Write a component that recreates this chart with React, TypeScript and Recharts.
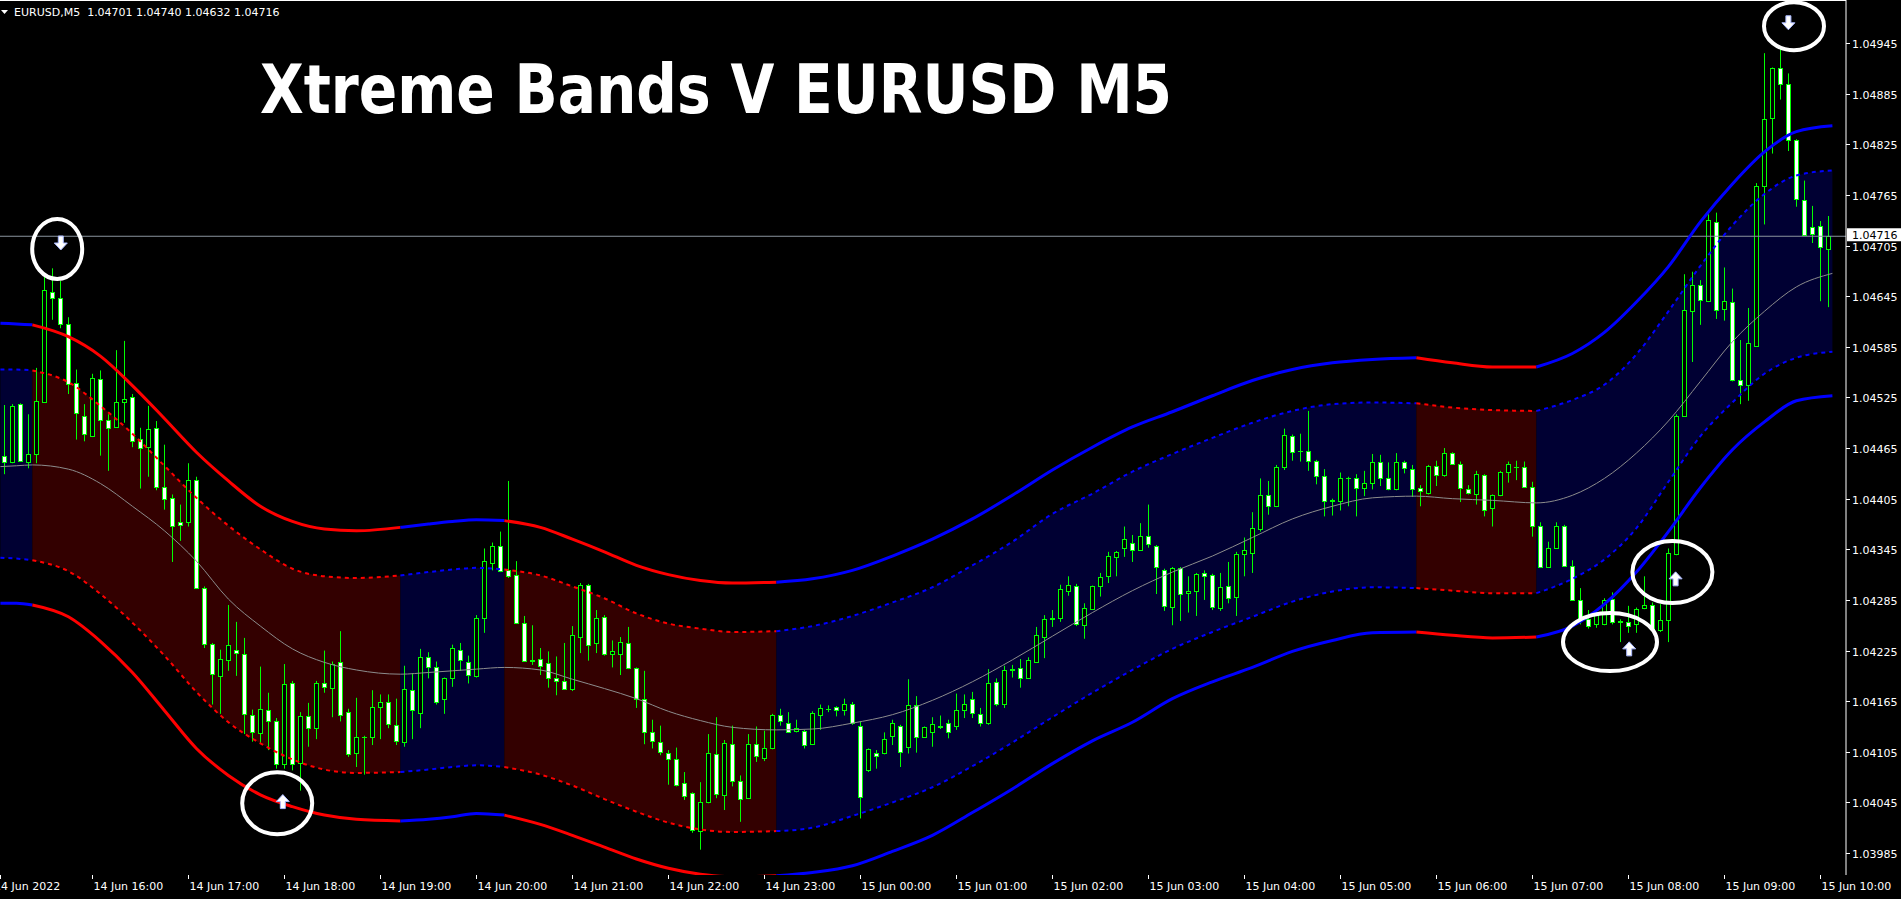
import React from 'react';
import {
  ComposedChart,
  XAxis,
  YAxis,
  Bar,
  Line,
  Area,
  ReferenceLine,
  ReferenceDot,
} from 'recharts';

// EURUSD M5, 14 Jun 15:05 .. 15 Jun 10:05 (one entry per bar)
const opens = [
  1.04455, 1.04449, 1.04517, 1.04449, 1.04458, 1.0452, 1.0465, 1.04643, 1.04612, 1.04542,
  1.04503, 1.04479, 1.04547, 1.04498, 1.0449, 1.04519, 1.04525, 1.04476, 1.04466, 1.04489,
  1.04419, 1.04406, 1.04377, 1.04377, 1.04427, 1.04299, 1.04233, 1.04195, 1.04214, 1.04226,
  1.04221, 1.04149, 1.04127, 1.04155, 1.04141, 1.04091, 1.04186, 1.04092, 1.04147, 1.04133,
  1.04186, 1.04181, 1.04211, 1.04152, 1.04104, 1.04123, 1.04122, 1.04158, 1.04164, 1.04137,
  1.04117, 1.04178, 1.04151, 1.04217, 1.04206, 1.04168, 1.04192, 1.04226, 1.04211, 1.04195,
  1.04264, 1.04329, 1.04349, 1.0432, 1.04315, 1.04258, 1.04214, 1.04215, 1.0421, 1.04193,
  1.04189, 1.04179, 1.04241, 1.04303, 1.04234, 1.04265, 1.04221, 1.04221, 1.04234, 1.04204,
  1.04168, 1.04129, 1.04117, 1.04103, 1.04097, 1.04068, 1.04056, 1.04011, 1.04045, 1.04102,
  1.04054, 1.04114, 1.0407, 1.0405, 1.04114, 1.04098, 1.04109, 1.04149, 1.04139, 1.0413,
  1.0413, 1.04114, 1.04149, 1.04156, 1.04158, 1.04154, 1.04162, 1.04135, 1.04084, 1.04104,
  1.04103, 1.04124, 1.04135, 1.04111, 1.04161, 1.04123, 1.04129, 1.04136, 1.04139, 1.04135,
  1.04155, 1.04168, 1.0415, 1.04139, 1.04188, 1.04162, 1.04203, 1.04204, 1.04193, 1.04212,
  1.04241, 1.04262, 1.04264, 1.04295, 1.04301, 1.04255, 1.04274, 1.04301, 1.04313, 1.04336,
  1.04347, 1.04353, 1.04344, 1.04361, 1.04349, 1.04321, 1.04277, 1.04323, 1.04293, 1.04295,
  1.04317, 1.04314, 1.04276, 1.04301, 1.04288, 1.04339, 1.04341, 1.04369, 1.04409, 1.04396,
  1.04443, 1.04479, 1.04462, 1.04461, 1.0445, 1.04432, 1.04402, 1.04402, 1.0443, 1.04429,
  1.04418, 1.04424, 1.04449, 1.0443, 1.04416, 1.04449, 1.0444, 1.04418, 1.04412, 1.04444,
  1.04433, 1.04459, 1.04446, 1.04417, 1.04411, 1.04433, 1.04394, 1.04409, 1.04437, 1.04443,
  1.04443, 1.04419, 1.04373, 1.04324, 1.04347, 1.04373, 1.04325, 1.04285, 1.04262, 1.04256,
  1.04256, 1.04286, 1.0426, 1.04259, 1.04256, 1.04275, 1.04279, 1.04249, 1.04261, 1.0434,
  1.04503, 1.04627, 1.04658, 1.04639, 1.04733, 1.0463, 1.04638, 1.04546, 1.0454, 1.04586,
  1.04775, 1.04856, 1.04915, 1.04897, 1.0483, 1.04759, 1.04727, 1.04728, 1.04701,
];
const highs = [
  1.04516, 1.04517, 1.04518, 1.04505, 1.0456, 1.04671, 1.04678, 1.04663, 1.0462, 1.04558,
  1.04517, 1.04553, 1.04557, 1.04505, 1.04581, 1.04592, 1.04529, 1.04489, 1.04515, 1.04497,
  1.04469, 1.0441, 1.04398, 1.04447, 1.04431, 1.04301, 1.04234, 1.04226, 1.04279, 1.04259,
  1.0424, 1.04155, 1.04206, 1.04175, 1.04145, 1.04209, 1.04189, 1.04152, 1.04163, 1.04189,
  1.04225, 1.04212, 1.04248, 1.04156, 1.04169, 1.04124, 1.04178, 1.04173, 1.04173, 1.04168,
  1.04207, 1.04198, 1.04227, 1.04223, 1.04212, 1.04193, 1.04232, 1.04234, 1.04219, 1.04267,
  1.04346, 1.04353, 1.04366, 1.04426, 1.04331, 1.04266, 1.04255, 1.04228, 1.04224, 1.04218,
  1.04234, 1.04254, 1.04305, 1.04304, 1.04273, 1.04267, 1.04237, 1.04241, 1.04253, 1.04205,
  1.04201, 1.04143, 1.04136, 1.04107, 1.0411, 1.04081, 1.04057, 1.04069, 1.04126, 1.04146,
  1.04119, 1.04136, 1.04077, 1.04126, 1.04135, 1.0413, 1.0415, 1.04156, 1.04152, 1.04143,
  1.04131, 1.04153, 1.04161, 1.0416, 1.04159, 1.04168, 1.04164, 1.04141, 1.04109, 1.04107,
  1.04128, 1.04143, 1.04137, 1.04191, 1.04171, 1.04135, 1.04146, 1.04148, 1.04143, 1.04174,
  1.04173, 1.04176, 1.04157, 1.04203, 1.04192, 1.04207, 1.04208, 1.04215, 1.04217, 1.04253,
  1.04267, 1.04273, 1.04303, 1.04313, 1.04304, 1.04281, 1.04302, 1.04317, 1.04342, 1.04343,
  1.04372, 1.04362, 1.04376, 1.04398, 1.0435, 1.04322, 1.04324, 1.04324, 1.04313, 1.04317,
  1.0432, 1.04316, 1.04317, 1.0433, 1.04342, 1.04359, 1.04389, 1.04429, 1.04426, 1.04445,
  1.04488, 1.04481, 1.04482, 1.04509, 1.04451, 1.0444, 1.04405, 1.04436, 1.04431, 1.04434,
  1.04438, 1.04458, 1.04457, 1.04448, 1.04459, 1.0445, 1.04445, 1.04421, 1.04445, 1.0445,
  1.04465, 1.0446, 1.04449, 1.04421, 1.04438, 1.04434, 1.0441, 1.04438, 1.04449, 1.0445,
  1.04449, 1.04425, 1.04377, 1.04354, 1.04377, 1.04374, 1.04332, 1.04299, 1.04273, 1.04271,
  1.04287, 1.04294, 1.04262, 1.04278, 1.04276, 1.04313, 1.04282, 1.0428, 1.04346, 1.04505,
  1.04671, 1.04674, 1.04664, 1.04742, 1.04744, 1.04679, 1.04654, 1.04593, 1.04631, 1.04779,
  1.04933, 1.04916, 1.04938, 1.04909, 1.04831, 1.04782, 1.04752, 1.04734, 1.0474,
];
const lows = [
  1.04434, 1.04447, 1.04449, 1.04441, 1.04447, 1.04519, 1.04617, 1.04607, 1.04529, 1.04475,
  1.04473, 1.04478, 1.04456, 1.04438, 1.04489, 1.04495, 1.04466, 1.04417, 1.04431, 1.04415,
  1.04392, 1.0433, 1.04355, 1.04372, 1.04298, 1.04228, 1.04161, 1.0415, 1.04201, 1.04195,
  1.04126, 1.04117, 1.04115, 1.04107, 1.04085, 1.04085, 1.04083, 1.04059, 1.04111, 1.0412,
  1.04175, 1.04146, 1.04141, 1.04099, 1.04087, 1.04078, 1.04113, 1.0412, 1.04133, 1.04113,
  1.04111, 1.0412, 1.04133, 1.04192, 1.04161, 1.0415, 1.04182, 1.04201, 1.04186, 1.04193,
  1.04246, 1.0432, 1.04318, 1.04311, 1.04257, 1.04212, 1.04208, 1.04196, 1.04181, 1.04172,
  1.04179, 1.04177, 1.04222, 1.04213, 1.04222, 1.04219, 1.04205, 1.04196, 1.04203, 1.04157,
  1.04114, 1.04109, 1.04101, 1.04066, 1.04064, 1.04048, 1.04009, 1.03989, 1.04044, 1.0405,
  1.04036, 1.04064, 1.04022, 1.04049, 1.04093, 1.04094, 1.04108, 1.04136, 1.04128, 1.04128,
  1.04109, 1.04113, 1.04131, 1.04152, 1.04147, 1.04148, 1.04137, 1.04026, 1.04081, 1.04085,
  1.04102, 1.04113, 1.04087, 1.04103, 1.04104, 1.04122, 1.04111, 1.04132, 1.04121, 1.04131,
  1.04145, 1.04145, 1.04135, 1.04137, 1.04159, 1.04157, 1.04193, 1.04181, 1.04192, 1.04211,
  1.04216, 1.04253, 1.04259, 1.0429, 1.04254, 1.04239, 1.04273, 1.04289, 1.04305, 1.04313,
  1.04336, 1.0433, 1.04343, 1.04347, 1.04292, 1.04272, 1.04255, 1.0426, 1.0427, 1.04266,
  1.04285, 1.04273, 1.04272, 1.04281, 1.04266, 1.04313, 1.04317, 1.04366, 1.04386, 1.04395,
  1.04439, 1.0445, 1.04449, 1.04438, 1.04422, 1.04384, 1.04385, 1.04391, 1.04396, 1.04384,
  1.04408, 1.04416, 1.0442, 1.04415, 1.04415, 1.04435, 1.04407, 1.04396, 1.0441, 1.0442,
  1.04431, 1.04445, 1.04401, 1.0441, 1.04398, 1.04384, 1.04372, 1.04408, 1.04424, 1.04427,
  1.04418, 1.0436, 1.04323, 1.04323, 1.04346, 1.04324, 1.04284, 1.04256, 1.04251, 1.04252,
  1.04255, 1.04256, 1.04235, 1.04246, 1.04246, 1.04274, 1.04249, 1.04247, 1.04235, 1.04338,
  1.04502, 1.04567, 1.04611, 1.04638, 1.04618, 1.04616, 1.04544, 1.04517, 1.04521, 1.04585,
  1.0473, 1.04814, 1.04878, 1.04817, 1.04751, 1.04717, 1.04708, 1.04639, 1.04632,
];
const closes = [
  1.04449, 1.04515, 1.0445, 1.04458, 1.04521, 1.04652, 1.04643, 1.04612, 1.04541, 1.04507,
  1.04482, 1.04548, 1.04498, 1.04489, 1.0452, 1.04523, 1.04473, 1.04465, 1.04488, 1.04419,
  1.04405, 1.04373, 1.04374, 1.04427, 1.04299, 1.04233, 1.04197, 1.04215, 1.04231, 1.04222,
  1.0415, 1.04128, 1.04156, 1.04142, 1.04091, 1.04185, 1.04091, 1.04148, 1.04133, 1.04186,
  1.04182, 1.04209, 1.04149, 1.04102, 1.04123, 1.04122, 1.04158, 1.04164, 1.04138, 1.04118,
  1.04179, 1.04154, 1.04217, 1.04205, 1.04164, 1.04192, 1.04228, 1.04214, 1.04196, 1.04264,
  1.04331, 1.04349, 1.04319, 1.04313, 1.04258, 1.04213, 1.04213, 1.04207, 1.04192, 1.04189,
  1.0418, 1.04243, 1.04303, 1.04232, 1.04263, 1.04221, 1.04224, 1.04235, 1.04204, 1.04168,
  1.04128, 1.04118, 1.04105, 1.04097, 1.04066, 1.04053, 1.04012, 1.04045, 1.04103, 1.04055,
  1.04115, 1.0407, 1.04049, 1.04114, 1.041, 1.04109, 1.04149, 1.04141, 1.04129, 1.04133,
  1.04113, 1.04151, 1.04157, 1.04156, 1.04155, 1.04162, 1.04139, 1.04051, 1.04108, 1.041,
  1.0412, 1.04139, 1.04105, 1.04161, 1.04122, 1.04134, 1.04138, 1.04134, 1.04129, 1.04155,
  1.04162, 1.04151, 1.04139, 1.04187, 1.04162, 1.04202, 1.04202, 1.04193, 1.04214, 1.04243,
  1.04262, 1.04264, 1.04298, 1.04303, 1.04256, 1.04275, 1.04301, 1.04312, 1.04337, 1.04342,
  1.04357, 1.04344, 1.04361, 1.04351, 1.04324, 1.04278, 1.04323, 1.04292, 1.04296, 1.04316,
  1.04313, 1.04277, 1.043, 1.04287, 1.0434, 1.04344, 1.0437, 1.04409, 1.04396, 1.04443,
  1.0448, 1.0446, 1.04461, 1.0445, 1.04432, 1.04402, 1.04404, 1.0443, 1.04429, 1.04418,
  1.04424, 1.04449, 1.0443, 1.04416, 1.04448, 1.04441, 1.04417, 1.04414, 1.04444, 1.04433,
  1.04459, 1.04446, 1.04418, 1.04412, 1.04434, 1.04392, 1.04409, 1.04437, 1.04446, 1.04442,
  1.04419, 1.04373, 1.04324, 1.04347, 1.04373, 1.04325, 1.04285, 1.04261, 1.04254, 1.0427,
  1.04285, 1.04259, 1.04259, 1.04254, 1.04274, 1.04279, 1.04251, 1.04261, 1.04341, 1.04503,
  1.04629, 1.04658, 1.0464, 1.04735, 1.04629, 1.04639, 1.04546, 1.0454, 1.04589, 1.04775,
  1.04855, 1.04915, 1.04897, 1.0483, 1.0476, 1.04718, 1.04719, 1.04703, 1.04716,
];

// Xtreme Bands, sampled along the bar index
const bandX = [
  -0.5, 1.5, 3.5, 8, 12, 16, 20, 24, 28, 32, 36, 40, 44, 49.5, 53, 56, 59, 62.5, 67, 71, 75, 79,
  83, 87, 91, 96.5, 101, 106, 111, 116, 121, 126, 131, 136, 141, 146, 151, 156, 161, 166, 171,
  176.5, 181, 186, 191.5, 196, 200, 204, 208, 212, 216, 220, 224, 228.5,
];
const upperOuter = [
  1.04613, 1.04612, 1.04611, 1.04597, 1.04574, 1.04539, 1.045, 1.0446, 1.04426, 1.04396, 1.04378,
  1.04369, 1.04367, 1.04371, 1.04375, 1.04378, 1.0438, 1.04379, 1.04371, 1.04357, 1.04342,
  1.04326, 1.04315, 1.04308, 1.04305, 1.04306, 1.0431, 1.0432, 1.04337, 1.04357, 1.04381,
  1.04409, 1.04439, 1.04466, 1.0449, 1.04508, 1.04527, 1.04545, 1.04558, 1.04566, 1.0457,
  1.04572, 1.04566, 1.04561, 1.04561, 1.04577, 1.04602, 1.04638, 1.0468, 1.04733, 1.04778,
  1.04816, 1.0484, 1.04847,
];
const upperInner = [
  1.04558, 1.04558, 1.04557, 1.04543, 1.04515, 1.04482, 1.04444, 1.04406, 1.04373, 1.04345,
  1.04322, 1.04313, 1.04311, 1.04314, 1.04318, 1.04321, 1.04323, 1.04321, 1.04314, 1.04301,
  1.04287, 1.04269, 1.04257, 1.04251, 1.04247, 1.04248, 1.04254, 1.04266, 1.04282, 1.043,
  1.04326, 1.04354, 1.04387, 1.04411, 1.04437, 1.04458, 1.04477, 1.04495, 1.04509, 1.04517,
  1.04519, 1.04518, 1.04513, 1.0451, 1.04509, 1.04522, 1.0454, 1.04576, 1.04627, 1.04681,
  1.04729, 1.04766, 1.04788, 1.04794,
];
const middle = [
  1.04443, 1.04444, 1.04445, 1.0444, 1.04423, 1.04396, 1.04367, 1.04331, 1.04286, 1.04254,
  1.04227, 1.04211, 1.04202, 1.04197, 1.04199, 1.04201, 1.04203, 1.04205, 1.04202, 1.04191,
  1.0418, 1.04168, 1.04153, 1.04142, 1.04134, 1.04131, 1.04132, 1.04139, 1.04149, 1.04166,
  1.04188, 1.04214, 1.04242, 1.0427, 1.04296, 1.04318, 1.04337, 1.04359, 1.04381, 1.04396,
  1.04406, 1.04408, 1.04405, 1.04403, 1.044, 1.04409, 1.04429, 1.04459, 1.04497, 1.04544,
  1.04591, 1.04627, 1.04656, 1.04672,
];
const lowerInner = [
  1.04335, 1.04334, 1.04332, 1.04319, 1.04292, 1.04258, 1.04219, 1.04176, 1.0414, 1.04115,
  1.04096, 1.04084, 1.0408, 1.04081, 1.04084, 1.04087, 1.04089, 1.04087, 1.04078, 1.04065,
  1.04049, 1.04034, 1.04021, 1.04013, 1.0401, 1.04011, 1.04015, 1.04029, 1.04045, 1.04063,
  1.04088, 1.04116, 1.04146, 1.04175, 1.04202, 1.04227, 1.04247, 1.04265, 1.04283, 1.04295,
  1.043, 1.04299, 1.04296, 1.04293, 1.04293, 1.0431, 1.04333, 1.0437, 1.04425, 1.04479,
  1.04519, 1.04553, 1.04572, 1.04579,
];
const lowerOuter = [
  1.04281, 1.04281, 1.04279, 1.04265, 1.04236, 1.04199, 1.04154, 1.04109, 1.04077, 1.04054,
  1.0404, 1.0403, 1.04025, 1.04023, 1.04025, 1.04028, 1.04032, 1.0403, 1.04019, 1.04006,
  1.03992, 1.03978, 1.03967, 1.0396, 1.03957, 1.03958, 1.03962, 1.0397, 1.03987, 1.04006,
  1.04033, 1.04061, 1.04091, 1.04118, 1.0414, 1.04168, 1.04188, 1.04205, 1.04224, 1.04237,
  1.04246, 1.04247, 1.04243, 1.0424, 1.04241, 1.04254, 1.0428, 1.04318, 1.04366, 1.04418,
  1.04463, 1.04496, 1.04521, 1.04527,
];

// colour changes of the bands (up = blue, down = red)
const trendSegments = [
  { from: -0.5, to: 3.5, up: true },
  { from: 3.5, to: 49.5, up: false },
  { from: 49.5, to: 62.5, up: true },
  { from: 62.5, to: 96.5, up: false },
  { from: 96.5, to: 176.5, up: true },
  { from: 176.5, to: 191.5, up: false },
  { from: 191.5, to: 228.5, up: true },
];

const hourTicks = [-0.55, 11, 23, 35, 47, 59, 71, 83, 95, 107, 119, 131, 143, 155, 167, 179, 191, 203, 215, 227];
const hourLabels = [
  '14 Jun 2022', '14 Jun 16:00', '14 Jun 17:00', '14 Jun 18:00', '14 Jun 19:00', '14 Jun 20:00',
  '14 Jun 21:00', '14 Jun 22:00', '14 Jun 23:00', '15 Jun 00:00', '15 Jun 01:00', '15 Jun 02:00',
  '15 Jun 03:00', '15 Jun 04:00', '15 Jun 05:00', '15 Jun 06:00', '15 Jun 07:00', '15 Jun 08:00',
  '15 Jun 09:00', '15 Jun 10:00',
];
const priceTicks = [
  1.03985, 1.04045, 1.04105, 1.04165, 1.04225, 1.04285, 1.04345, 1.04405, 1.04465, 1.04525,
  1.04585, 1.04645, 1.04705, 1.04765, 1.04825, 1.04885, 1.04945,
];
const lastPrice = 1.04716;

// signal circles and arrows drawn on the screenshot
const circleMarks = [
  { x: 6.6, y: 1.04701 },
  { x: 34.1, y: 1.04044 },
  { x: 200.7, y: 1.04235 },
  { x: 208.5, y: 1.04318 },
  { x: 223.7, y: 1.04965 },
];
const circleSizes = [[25, 30], [35, 31], [47, 29], [40, 31], [30, 24]];
const arrowMarks = [
  { x: 7.05, y: 1.04708, up: false },
  { x: 34.8, y: 1.04046, up: true },
  { x: 203.1, y: 1.04227, up: true },
  { x: 208.9, y: 1.0431, up: true },
  { x: 223, y: 1.04969, up: false },
];

const candles = opens.map((o, k) => ({ k, o, h: highs[k], l: lows[k], c: closes[k] }));
const bandRows = bandX.map((x, k) => ({
  x,
  uo: upperOuter[k],
  ui: upperInner[k],
  m: middle[k],
  li: lowerInner[k],
  lo: lowerOuter[k],
  fill: [lowerInner[k], upperInner[k]],
}));

const W = 1901;
const H = 899;
const AXIS_H = 24;
const FONT = '"DejaVu Sans", Verdana, sans-serif';
const RED = '#ff0000';
const BLUE = '#0000ff';

function Candle(props: any) {
  const { x, y, width, height, payload } = props;
  if (!payload || height == null) return null;
  const { o, h, l, c } = payload;
  const top = Math.min(y, y + height);
  const span = Math.abs(height);
  const k = span / (h - l || 1e-9);
  const cx = Math.floor(x + width / 2) + 0.5;
  const bt = Math.round(top + (h - Math.max(o, c)) * k) + 0.5;
  const bb = Math.round(top + (h - Math.min(o, c)) * k) + 0.5;
  return (
    <g>
      <line x1={cx} x2={cx} y1={top} y2={top + span} stroke="#00ff00" />
      {bb - bt < 1 ? (
        <line x1={cx - 2.5} x2={cx + 2.5} y1={bt} y2={bt} stroke="#00ff00" />
      ) : (
        <rect x={cx - 2} y={bt} width={4} height={bb - bt} fill={c > o ? '#000' : '#fff'} stroke="#00ff00" />
      )}
    </g>
  );
}

function TimeTick(props: any) {
  const { x, payload } = props;
  const idx = hourTicks.indexOf(payload.value);
  const ay = H - AXIS_H; // top of the time axis strip
  const tx = Math.round(x) + 0.5;
  return (
    <g>
      <line x1={tx} x2={tx} y1={ay} y2={ay + 4} stroke="#fff" />
      <text x={idx === 0 ? x - 6 : x + 1} y={ay + 15} fill="#fff" fontSize={11} fontFamily={FONT}>
        {hourLabels[idx]}
      </text>
    </g>
  );
}

function PriceTick(props: any) {
  const { x, y, payload } = props;
  const v = payload.value;
  if (v === lastPrice) {
    return (
      <g>
        <rect x={x + 1} y={y - 8} width={54} height={13} fill="#fff" />
        <text x={x + 6} y={y + 3} fill="#000" fontSize={11} fontFamily={FONT}>
          {v.toFixed(5)}
        </text>
      </g>
    );
  }
  return (
    <g>
      <line x1={x} x2={x + 4} y1={Math.round(y) + 0.5} y2={Math.round(y) + 0.5} stroke="#fff" />
      <text x={x + 6} y={y + 5} fill="#fff" fontSize={11} fontFamily={FONT}>
        {v.toFixed(5)}
      </text>
    </g>
  );
}

function arrowPath(cx: number, cy: number, up: boolean) {
  const s = up ? -1 : 1;
  return `M${cx - 2.5} ${cy - 7 * s} L${cx + 2.5} ${cy - 7 * s} L${cx + 2.5} ${cy} L${cx + 6.5} ${cy} L${cx} ${cy + 7 * s} L${cx - 6.5} ${cy} L${cx - 2.5} ${cy} Z`;
}

export default function App() {
  return (
    <div style={{ position: 'absolute', left: 0, top: 0, width: W, height: H, background: '#000', overflow: 'hidden' }}>
      <ComposedChart width={W} height={H} data={candles} margin={{ top: 0, right: 0, bottom: 0, left: 0 }}>
        <XAxis
          xAxisId="num"
          type="number"
          dataKey="x"
          domain={[-0.55, 230.2]}
          allowDataOverflow
          ticks={hourTicks}
          interval={0}
          height={AXIS_H}
          tickSize={0}
          tickMargin={0}
          tick={<TimeTick />}
          axisLine={{ stroke: '#fff' }}
        />
        <XAxis xAxisId="cat" dataKey="k" type="category" hide padding={{ left: 0.4, right: 13.6 }} />
        <YAxis
          orientation="right"
          width={55}
          domain={[1.03959, 1.04996]}
          allowDataOverflow
          ticks={[...priceTicks, lastPrice]}
          interval={0}
          tickSize={0}
          tickMargin={0}
          tick={<PriceTick />}
          axisLine={{ stroke: '#fff' }}
        />

        {trendSegments.map((s, n) => (
          <Area
            key={`f${n}`}
            xAxisId="num"
            data={bandRows.filter((r) => r.x >= s.from && r.x <= s.to)}
            dataKey="fill"
            type="monotone"
            stroke="none"
            fill={s.up ? '#000033' : '#330000'}
            fillOpacity={1}
            isAnimationActive={false}
            dot={false}
            activeDot={false}
          />
        ))}

        <ReferenceLine xAxisId="num" y={lastPrice} stroke="#8a949e" strokeWidth={1} />

        <Line
          xAxisId="num"
          data={bandRows}
          dataKey="m"
          type="monotone"
          stroke="#8c8c8c"
          strokeWidth={1}
          dot={false}
          activeDot={false}
          isAnimationActive={false}
        />
        {trendSegments.map((s, n) =>
          ['ui', 'li', 'uo', 'lo'].map((key) => (
            <Line
              key={`${key}${n}`}
              xAxisId="num"
              data={bandRows.filter((r) => r.x >= s.from && r.x <= s.to)}
              dataKey={key}
              type="monotone"
              stroke={s.up ? BLUE : RED}
              strokeWidth={key === 'ui' || key === 'li' ? 2 : 3}
              strokeDasharray={key === 'ui' || key === 'li' ? '4 4' : undefined}
              dot={false}
              activeDot={false}
              isAnimationActive={false}
            />
          ))
        )}

        <Bar
          xAxisId="cat"
          dataKey={(d: any) => [d.l, d.h]}
          barSize={5}
          shape={(p: any) => <Candle {...p} />}
          isAnimationActive={false}
        />

        {circleMarks.map((m, n) => (
          <ReferenceDot
            key={`c${n}`}
            xAxisId="num"
            x={m.x}
            y={m.y}
            ifOverflow="visible"
            shape={(p: any) => (
              <ellipse cx={p.cx} cy={p.cy} rx={circleSizes[n][0]} ry={circleSizes[n][1]} fill="none" stroke="#fff" strokeWidth={4} />
            )}
          />
        ))}
        {arrowMarks.map((m, n) => (
          <ReferenceDot
            key={`a${n}`}
            xAxisId="num"
            x={m.x}
            y={m.y}
            ifOverflow="visible"
            shape={(p: any) => <path d={arrowPath(p.cx, p.cy, m.up)} fill="#fff" stroke="#a9b8ff" strokeWidth={1} />}
          />
        ))}
      </ComposedChart>

      <svg width={W} height={H} style={{ position: 'absolute', left: 0, top: 0, pointerEvents: 'none' }}>
        <line x1={0} x2={1846} y1={0.5} y2={0.5} stroke="#fff" />
        <path d="M1 10 L8 10 L4.5 14 Z" fill="#fff" />
        <text x={14} y={16} fill="#fff" fontSize={11} fontFamily={FONT} style={{ whiteSpace: 'pre' }}>
          {'EURUSD,M5  1.04701 1.04740 1.04632 1.04716'}
        </text>
        <text
          x={260}
          y={113}
          fill="#fff"
          fontSize={68}
          fontWeight="bold"
          fontFamily={FONT}
          textLength={912}
          lengthAdjust="spacingAndGlyphs"
        >
          Xtreme Bands V EURUSD M5
        </text>
      </svg>
    </div>
  );
}
